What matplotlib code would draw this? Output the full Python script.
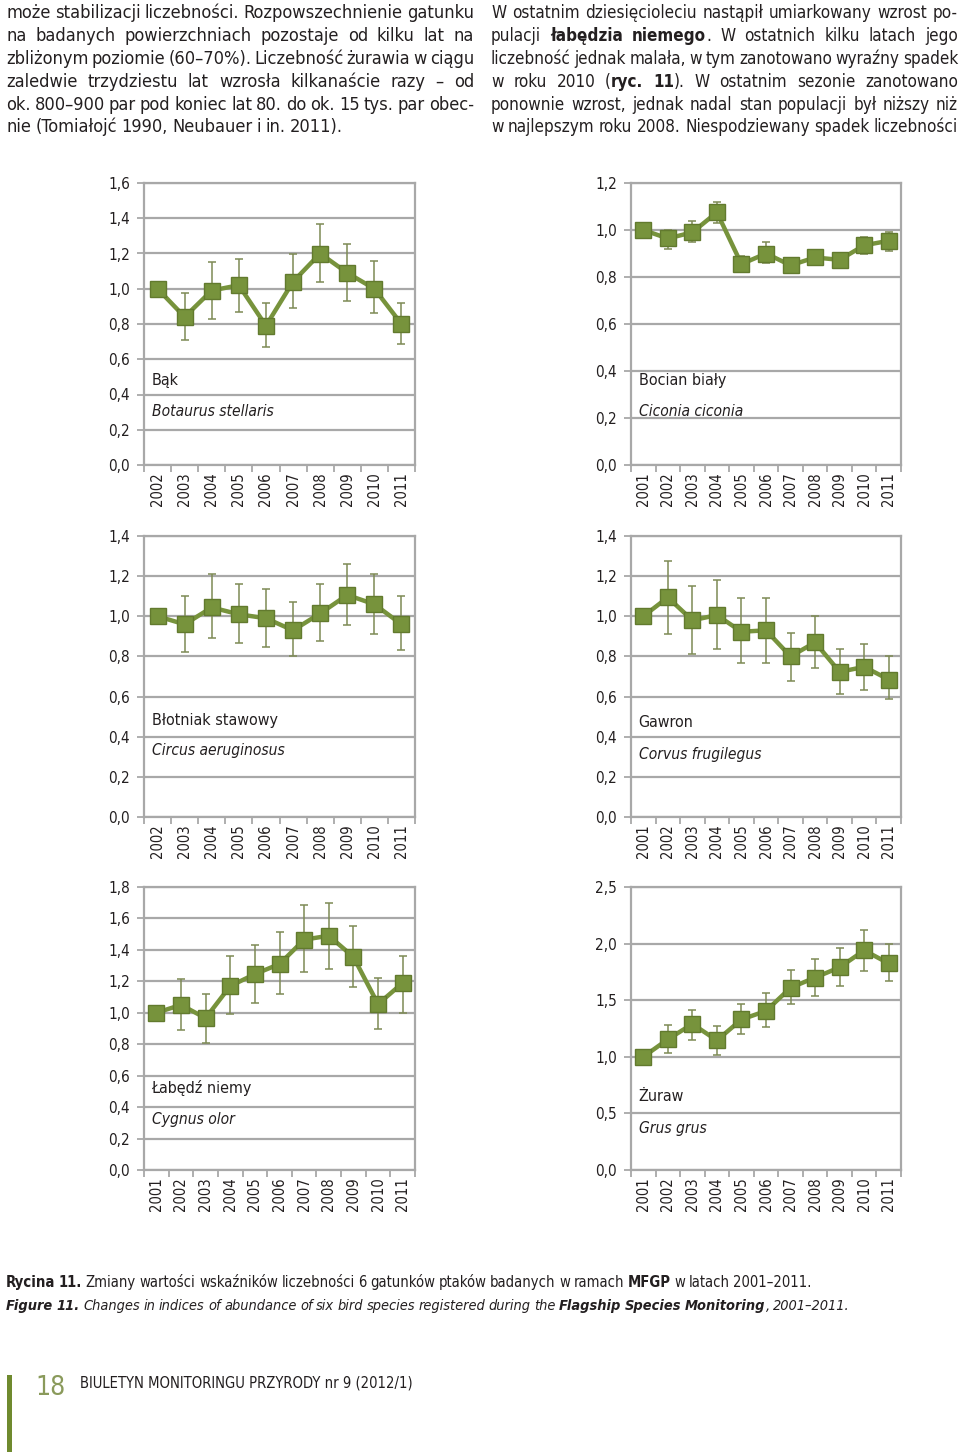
import numpy as np
import matplotlib
matplotlib.use("Agg")
import matplotlib.pyplot as plt
from matplotlib import font_manager as fm
from matplotlib.patches import Rectangle

# ---------------- data ----------------
bak_years = [2002, 2003, 2004, 2005, 2006, 2007, 2008, 2009, 2010, 2011]
bak_vals = [1.00, 0.84, 0.99, 1.02, 0.79, 1.04, 1.20, 1.09, 1.00, 0.80]
bak_lo = [None, 0.71, 0.83, 0.87, 0.67, 0.89, 1.04, 0.93, 0.86, 0.685]
bak_hi = [None, 0.975, 1.15, 1.17, 0.92, 1.20, 1.37, 1.255, 1.16, 0.92]

bocian_years = [2001, 2002, 2003, 2004, 2005, 2006, 2007, 2008, 2009, 2010, 2011]
bocian_vals = [1.00, 0.964, 0.99, 1.075, 0.855, 0.90, 0.85, 0.883, 0.873, 0.935, 0.954]
bocian_lo = [None, 0.92, 0.95, 1.03, 0.82, 0.86, 0.825, 0.85, 0.84, 0.90, 0.91]
bocian_hi = [None, 1.00, 1.04, 1.12, 0.89, 0.947, 0.875, 0.91, 0.90, 0.97, 0.99]

blotniak_years = [2002, 2003, 2004, 2005, 2006, 2007, 2008, 2009, 2010, 2011]
blotniak_vals = [1.00, 0.96, 1.044, 1.01, 0.99, 0.93, 1.014, 1.106, 1.06, 0.96]
blotniak_lo = [None, 0.82, 0.89, 0.865, 0.845, 0.80, 0.878, 0.956, 0.913, 0.83]
blotniak_hi = [None, 1.10, 1.21, 1.16, 1.134, 1.07, 1.16, 1.26, 1.21, 1.10]

gawron_years = [2001, 2002, 2003, 2004, 2005, 2006, 2007, 2008, 2009, 2010, 2011]
gawron_vals = [1.00, 1.094, 0.98, 1.006, 0.923, 0.93, 0.80, 0.87, 0.723, 0.748, 0.685]
gawron_lo = [None, 0.91, 0.81, 0.835, 0.765, 0.765, 0.68, 0.74, 0.615, 0.635, 0.587]
gawron_hi = [None, 1.275, 1.15, 1.18, 1.09, 1.09, 0.918, 1.00, 0.836, 0.86, 0.80]

labedz_years = [2001, 2002, 2003, 2004, 2005, 2006, 2007, 2008, 2009, 2010, 2011]
labedz_vals = [1.00, 1.05, 0.966, 1.17, 1.246, 1.31, 1.465, 1.49, 1.355, 1.055, 1.19]
labedz_lo = [None, 0.89, 0.81, 0.99, 1.06, 1.12, 1.257, 1.28, 1.163, 0.90, 1.00]
labedz_hi = [None, 1.215, 1.12, 1.36, 1.43, 1.515, 1.685, 1.70, 1.555, 1.22, 1.36]

zuraw_years = [2001, 2002, 2003, 2004, 2005, 2006, 2007, 2008, 2009, 2010, 2011]
zuraw_vals = [1.00, 1.154, 1.29, 1.145, 1.33, 1.405, 1.61, 1.70, 1.79, 1.94, 1.825]
zuraw_lo = [None, 1.035, 1.145, 1.015, 1.20, 1.266, 1.465, 1.54, 1.627, 1.76, 1.667]
zuraw_hi = [None, 1.28, 1.41, 1.275, 1.47, 1.56, 1.77, 1.86, 1.96, 2.12, 2.00]

panel_names = ["Bąk", "Bocian biały", "Błotniak stawowy", "Gawron", "Łabędź niemy", "Żuraw"]
panel_latin = ["Botaurus stellaris", "Ciconia ciconia", "Circus aeruginosus",
               "Corvus frugilegus", "Cygnus olor", "Grus grus"]
panel_ymax = [1.6, 1.2, 1.4, 1.4, 1.8, 2.5]
panel_ystep = [0.2, 0.2, 0.2, 0.2, 0.2, 0.5]

left_lines = [
    "może stabilizacji liczebności. Rozpowszechnienie gatunku",
    "na badanych powierzchniach pozostaje od kilku lat na",
    "zbliżonym poziomie (60–70%). Liczebność żurawia w ciągu",
    "zaledwie trzydziestu lat wzrosła kilkanaście razy – od",
    "ok. 800–900 par pod koniec lat 80. do ok. 15 tys. par obec-",
    "nie (Tomiałojć 1990, Neubauer i in. 2011).",
]
right_lines = [
    "W ostatnim dziesięcioleciu nastąpił umiarkowany wzrost po-",
    "pulacji *łabędzia niemego*. W ostatnich kilku latach jego",
    "liczebność jednak malała, w tym zanotowano wyraźny spadek",
    "w roku 2010 (*ryc. 11*). W ostatnim sezonie zanotowano",
    "ponownie wzrost, jednak nadal stan populacji był niższy niż",
    "w najlepszym roku 2008. Niespodziewany spadek liczebności",
]
caption_pl = "*Rycina 11.* Zmiany wartości wskaźników liczebności 6 gatunków ptaków badanych w ramach *MFGP* w latach 2001–2011."
caption_en = "*Figure 11.* Changes in indices of abundance of six bird species registered during the *Flagship Species Monitoring*, 2001–2011."
footer_page = "18"
footer_title = "BIULETYN MONITORINGU PRZYRODY nr 9 (2012/1)"

# ---------------- fonts ----------------
names = {f.name for f in fm.fontManager.ttflist}
if "Liberation Sans Narrow" in names:
    FONT = dict(family=["Liberation Sans Narrow", "DejaVu Sans"])
elif any(f.name == "DejaVu Sans" and f.stretch == "condensed" for f in fm.fontManager.ttflist):
    FONT = dict(family=["DejaVu Sans"], stretch="condensed")
else:
    FONT = dict(family=["Liberation Sans", "DejaVu Sans"])
plt.rcParams["font.family"] = FONT["family"]
if "stretch" in FONT:
    plt.rcParams["font.stretch"] = FONT["stretch"]

GREEN = "#77933c"
EDGE = "#627a2e"
ERR = "#7d8a55"
GRID = "#a8a8a8"
TXT = "#231f20"

W, H = 960, 1452
fig = plt.figure(figsize=(W / 100, H / 100), dpi=100)
R = fig.canvas.get_renderer()


def fx(x):
    return x / W


def fy(y):
    return 1 - y / H


def tw(s, size, weight="normal", style="normal"):
    t = fig.text(0, 0, s, fontsize=size, fontweight=weight, fontstyle=style, **FONT)
    w = t.get_window_extent(renderer=R).width
    t.remove()
    return w


def parse(line, bold=False):
    words = []
    for raw in line.split(" "):
        segs, cur = [], ""
        for ch in raw:
            if ch == "*":
                if cur:
                    segs.append((cur, bold))
                cur = ""
                bold = not bold
            else:
                cur += ch
        if cur:
            segs.append((cur, bold))
        words.append(segs)
    return words, bold


def word_widths(words, size, style):
    return [[tw(s, size, "bold" if b else "normal", style) for s, b in w] for w in words]


def space_w(size, style="normal"):
    return 0.24 * size * 100 / 72


def draw_words(words, x0, x1, yb, size, justify, style="normal", color=TXT):
    ww = word_widths(words, size, style)
    total = sum(sum(w) for w in ww)
    n = len(words)
    if justify and n > 1:
        gap = (x1 - x0 - total) / (n - 1)
    else:
        gap = space_w(size, style)
    x = x0
    for segs, ws in zip(words, ww):
        for (s, b), w in zip(segs, ws):
            fig.text(fx(x), fy(yb), s, fontsize=size, fontweight="bold" if b else "normal",
                     fontstyle=style, ha="left", va="baseline", color=color, **FONT)
            x += w
        x += gap


def natural_width(words, size, style="normal"):
    ww = word_widths(words, size, style)
    return sum(sum(w) for w in ww) + (len(words) - 1) * space_w(size, style)


# ---------------- top paragraphs ----------------
baselines = [18, 41, 64, 87, 110, 132]


def paragraph(lines, x0, x1, last_justified):
    parsed, bold = [], False
    for ln in lines:
        w, bold = parse(ln, bold)
        parsed.append(w)
    size = 15.6
    for i, w in enumerate(parsed):
        if i == len(parsed) - 1 and not last_justified:
            continue
        ww = word_widths(w, size, "normal")
        need = sum(sum(a) for a in ww) + (len(w) - 1) * 0.8 * space_w(size)
        if need > (x1 - x0):
            size = size * (x1 - x0) / need
    for i, w in enumerate(parsed):
        just = last_justified or i < len(parsed) - 1
        draw_words(w, x0, x1, baselines[i], size, just)


paragraph(left_lines, 6, 474, False)
paragraph(right_lines, 491, 958, True)

# ---------------- charts ----------------
series = [
    (bak_years, bak_vals, bak_lo, bak_hi),
    (bocian_years, bocian_vals, bocian_lo, bocian_hi),
    (blotniak_years, blotniak_vals, blotniak_lo, blotniak_hi),
    (gawron_years, gawron_vals, gawron_lo, gawron_hi),
    (labedz_years, labedz_vals, labedz_lo, labedz_hi),
    (zuraw_years, zuraw_vals, zuraw_lo, zuraw_hi),
]
cols = [(144, 415), (631, 901)]
rows = [(183, 465), (536, 817), (887, 1170)]
label_y = [(0.30, 0.19), (0.30, 0.19), (0.345, 0.235), (0.338, 0.224), (0.29, 0.18), (0.258, 0.148)]

for k, (yrs, vals, lo, hi) in enumerate(series):
    c, r = k % 2, k // 2
    x0, x1 = cols[c]
    y0, y1 = rows[r]
    ax = fig.add_axes([fx(x0), fy(y1), (x1 - x0) / W, (y1 - y0) / H])
    n = len(yrs)
    xs = np.arange(n)
    ax.set_xlim(-0.5, n - 0.5)
    ymax = panel_ymax[k]
    ax.set_ylim(0, ymax)
    ticks = np.arange(0, ymax + 1e-9, panel_ystep[k])
    ax.set_yticks(ticks)
    ax.set_yticklabels([f"{t:.1f}".replace(".", ",") for t in ticks])
    ax.yaxis.grid(True, color=GRID, lw=1.6)
    ax.set_axisbelow(True)
    for sp in ax.spines.values():
        sp.set_color(GRID)
        sp.set_linewidth(1.6)
    ax.tick_params(axis="y", length=5, width=1.3, color=GRID, labelsize=11,
                   pad=5, labelcolor=TXT)
    ax.set_xticks(xs)
    ax.set_xticklabels([str(y) for y in yrs], rotation=90)
    ax.tick_params(axis="x", which="major", length=0, pad=5, labelsize=10.6, labelcolor=TXT)
    ax.set_xticks(np.arange(-0.5, n), minor=True)
    ax.tick_params(axis="x", which="minor", length=5, width=1.3, color=GRID)

    ei = [i for i in range(n) if lo[i] is not None]
    ev = np.array([vals[i] for i in ei])
    el = np.array([lo[i] for i in ei])
    eh = np.array([hi[i] for i in ei])
    ax.errorbar(xs[ei], ev, yerr=[ev - el, eh - ev], fmt="none", ecolor=ERR,
                elinewidth=1.1, capsize=3.2, capthick=1.1, zorder=2)
    ax.plot(xs, vals, color=GREEN, lw=3.2, zorder=3, solid_joinstyle="miter")
    ax.plot(xs, vals, ls="none", marker="s", ms=11.5, mfc=GREEN, mec=EDGE, mew=1.0, zorder=4)

    ly1, ly2 = label_y[k]
    ax.text(0.028, ly1, panel_names[k], transform=ax.transAxes, fontsize=11.5,
            ha="left", va="center", color=TXT)
    ax.text(0.028, ly2, panel_latin[k], transform=ax.transAxes, fontsize=11.2,
            fontstyle="italic", ha="left", va="center", color=TXT)

# ---------------- caption ----------------
cw_pl, _ = parse(caption_pl)
cw_en, _ = parse(caption_en)
base = 10.0
s1 = base * (812 - 6) / natural_width(cw_pl, base)
s2 = base * (848 - 6) / natural_width(cw_en, base, "italic")
draw_words(cw_pl, 6, 812, 1287, s1, False)
draw_words(cw_en, 6, 848, 1310, s2, False, style="italic")

# ---------------- footer ----------------
fig.add_artist(Rectangle((fx(7), 0), 5 / W, (H - 1375) / H, transform=fig.transFigure,
                         color="#6f8a2e", lw=0))
fig.text(fx(35), fy(1395), footer_page, fontsize=19, color="#8a9a5b", ha="left",
         va="baseline", **FONT)
st = base * (415 - 80) / tw(footer_title, base)
fig.text(fx(80), fy(1388), footer_title, fontsize=st, color=TXT, ha="left",
         va="baseline", **FONT)

fig.savefig("out.png", dpi=100)
